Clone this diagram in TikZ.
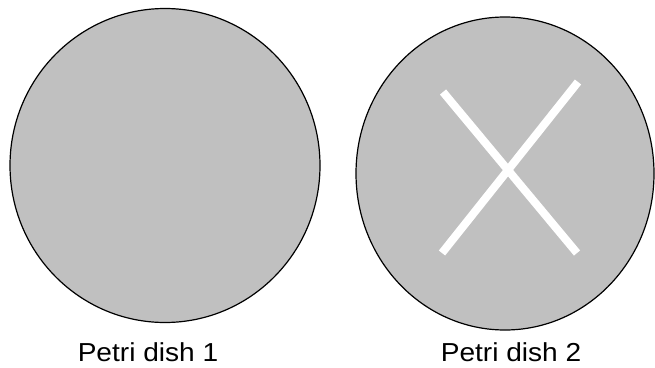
\documentclass[tikz,border=0pt]{standalone}
\usepackage{fontspec}
\setmainfont{Liberation Sans}
\begin{document}
\begin{tikzpicture}[x=1pt,y=-1pt,
  dish/.style={draw=black,fill=dishgray,line width=1.2pt},
  bar/.style={draw=white,line width=8pt},
  lbl/.style={font=\fontsize{26}{30}\selectfont,anchor=base,inner sep=0pt}]
\definecolor{dishgray}{RGB}{192,192,192}
\useasboundingbox (0,0) rectangle (655,367);
\draw[dish] (165,165.5) ellipse [x radius=155, y radius=157];
\draw[dish] (505,173.5) ellipse [x radius=149, y radius=156.5];
\coordinate (a1) at (443,92);
\coordinate (a2) at (577,253);
\coordinate (b1) at (578,82);
\coordinate (b2) at (442,253);
\draw[bar] (a1) -- (a2);
\draw[bar] (b1) -- (b2);
\node[lbl,xscale=1.08] (t1) at (148,361) {Petri dish 1};
\node[lbl,xscale=1.08] (t2) at (511,361) {Petri dish 2};
\end{tikzpicture}
\end{document}
